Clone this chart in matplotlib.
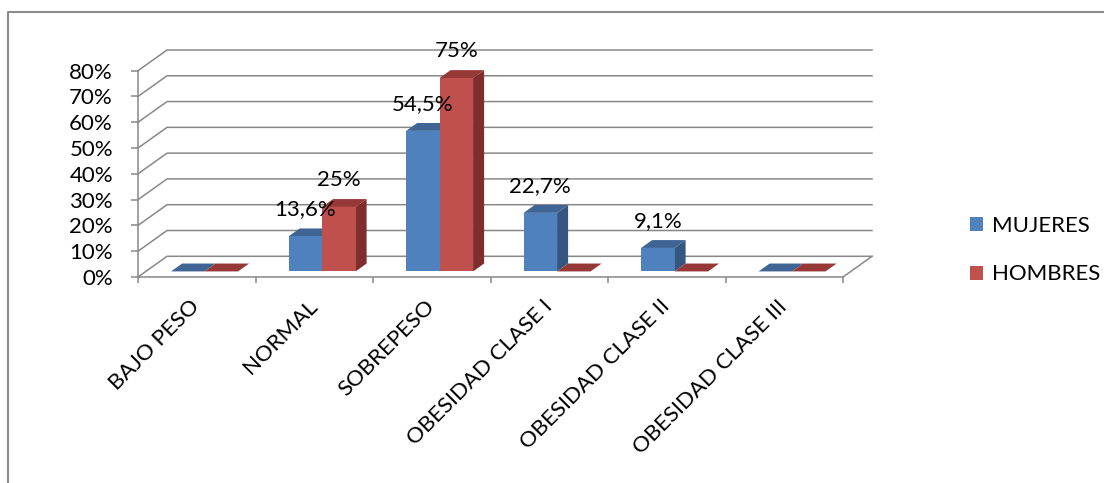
import matplotlib.pyplot as plt
from matplotlib.patches import Polygon, Patch
from matplotlib.lines import Line2D

plt.rcParams['font.family'] = ['Lato', 'DejaVu Sans']

categorias = ['BAJO PESO', 'NORMAL', 'SOBREPESO', 'OBESIDAD CLASE I',
              'OBESIDAD CLASE II', 'OBESIDAD CLASE III']
mujeres = [0, 13.6, 54.5, 22.7, 9.1, 0]
hombres = [0, 25, 75, 0, 0, 0]
series = ['MUJERES', 'HOMBRES']
yticks = [0, 10, 20, 30, 40, 50, 60, 70, 80]

# colores: frente, lateral, tapa
azul = ('#4F81BD', '#35567F', '#3E6594')
rojo = ('#C0504D', '#7E2F2D', '#953836')
gris = '#888888'
FS = 16

# profundidad del piso (fondo = 1) en unidades de datos
KX = 0.247
KY = 8.03
D0, D1 = 0.27, 0.65
ANCHO = 0.285


def proj(x, y, d):
    return (x + d * KX, y + d * KY)


fig = plt.figure(figsize=(11.04, 4.83), dpi=100)
ax = fig.add_axes([138 / 1104, 206 / 483, 705 / 1104, 206.3 / 483])
ax.set_xlim(-0.5, 5.5)
ax.set_ylim(0, 80)

# paredes: lineas de division al fondo y en la pared izquierda
for v in yticks:
    a = proj(-0.5, v, 0)
    b = proj(-0.5, v, 1)
    c = proj(5.5, v, 1)
    ax.add_line(Line2D([a[0], b[0], c[0]], [a[1], b[1], c[1]],
                       color=gris, lw=1.1, clip_on=False, zorder=1))
a = proj(5.5, 0, 0)
b = proj(5.5, 0, 1)
ax.add_line(Line2D([a[0], b[0]], [a[1], b[1]], color=gris, lw=1.1,
                   clip_on=False, zorder=1))


def barra(x0, v, cols, z):
    x1 = x0 + ANCHO
    lado = [proj(x1, 0, D0), proj(x1, 0, D1), proj(x1, v, D1), proj(x1, v, D0)]
    tapa = [proj(x0, v, D0), proj(x1, v, D0), proj(x1, v, D1), proj(x0, v, D1)]
    ax.add_patch(Polygon(lado, closed=True, fc=cols[1], ec='none',
                         clip_on=False, zorder=z))
    ax.add_patch(Polygon(tapa, closed=True, fc=cols[2], ec='none',
                         clip_on=False, zorder=z))
    fx, fy = proj(x0, 0, D0)
    ax.bar(fx, v, width=ANCHO, bottom=fy, align='edge', color=cols[0],
           zorder=z, clip_on=False)


def etiqueta(v):
    s = ('%.1f' % v).replace('.', ',')
    if s.endswith(',0'):
        s = s[:-2]
    return s + '%'


for i in range(len(categorias)):
    barra(i - ANCHO, mujeres[i], azul, 3 + i)
    barra(i, hombres[i], rojo, 3.5 + i)
    for x0, v in ((i - ANCHO, mujeres[i]), (i, hombres[i])):
        if v > 0:
            px, py = proj(x0 + ANCHO / 2, v, D0)
            ax.annotate(etiqueta(v), (px, py), xytext=(0, 19.5),
                        textcoords='offset points', ha='center', va='center',
                        fontsize=FS, color='black', zorder=20,
                        annotation_clip=False)

for s in ('top', 'right'):
    ax.spines[s].set_visible(False)
for s in ('left', 'bottom'):
    ax.spines[s].set_color(gris)
    ax.spines[s].set_linewidth(1.1)
ax.patch.set_visible(False)

ax.set_yticks(yticks)
ax.set_yticklabels(['%d%%' % v for v in yticks], fontsize=FS)
ax.tick_params(axis='y', length=5, width=1.1, color=gris, pad=13)

ax.set_xticks([i - 0.5 for i in range(len(categorias) + 1)])
ax.set_xticklabels([])
ax.tick_params(axis='x', which='major', length=4, width=1.1, color=gris)
ax.set_xticks(range(len(categorias)), minor=True)
ax.set_xticklabels(categorias, minor=True, fontsize=FS, rotation=45,
                   ha='right', va='center', rotation_mode='anchor')
ax.tick_params(axis='x', which='minor', length=0, pad=19)

handles = [Patch(facecolor=azul[0]), Patch(facecolor=rojo[0])]
fig.legend(handles, series, loc='center left',
           bbox_to_anchor=(950 / 1104, 1 - 250 / 483), frameon=False,
           fontsize=FS, handlelength=0.6, handleheight=0.6,
           handletextpad=0.4, labelspacing=1.3)

# marco del area del grafico
fig.add_artist(Line2D([8 / 1104, 8 / 1104, 1.0], [0.0, 1 - 12 / 483, 1 - 12 / 483],
                      transform=fig.transFigure, color='#8C8C8C', lw=1.5))

fig.savefig('out.png', dpi=100)
